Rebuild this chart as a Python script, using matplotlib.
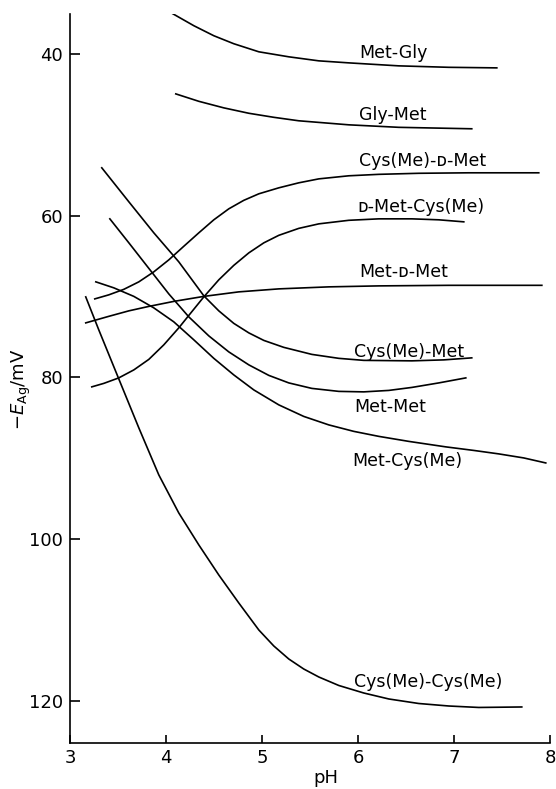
import matplotlib
matplotlib.use("Agg")
import matplotlib.pyplot as plt

plt.rcParams['font.family'] = ['DejaVu Sans']
plt.rcParams['mathtext.fontset'] = 'dejavusans'

# ---- data (pH, -E_Ag / mV) ----
met_gly_x = [4.071, 4.290, 4.498, 4.706, 4.967, 5.279, 5.592, 5.904, 6.425, 6.946, 7.446]
met_gly_y = [34.97, 36.45, 37.69, 38.68, 39.68, 40.30, 40.80, 41.05, 41.42, 41.60, 41.67]

gly_met_x = [4.102, 4.342, 4.602, 4.863, 5.123, 5.383, 5.904, 6.425, 7.185]
gly_met_y = [44.89, 45.81, 46.62, 47.29, 47.79, 48.22, 48.72, 49.03, 49.21]

cysme_dmet_x = [3.258, 3.404, 3.560, 3.717, 3.873, 4.029, 4.185, 4.342, 4.498, 4.654,
                4.810, 4.967, 5.175, 5.383, 5.592, 5.904, 6.217, 6.633, 7.154, 7.883]
cysme_dmet_y = [70.27, 69.77, 69.09, 68.16, 66.92, 65.44, 63.76, 62.09, 60.48, 59.12,
                58.07, 57.26, 56.52, 55.90, 55.41, 55.03, 54.85, 54.72, 54.66, 54.66]

dmet_cysme_x = [3.227, 3.352, 3.508, 3.665, 3.821, 3.977, 4.133, 4.238, 4.394, 4.550, 4.706,
                4.863, 5.019, 5.175, 5.383, 5.592, 5.904, 6.217, 6.561, 6.842, 7.102]
dmet_cysme_y = [81.16, 80.73, 80.05, 79.06, 77.76, 75.96, 73.86, 72.31, 70.02, 67.91, 66.12,
                64.57, 63.33, 62.40, 61.54, 60.98, 60.54, 60.36, 60.36, 60.48, 60.73]

met_dmet_x = [3.164, 3.404, 3.613, 3.821, 4.081, 4.394, 4.758, 5.175, 5.696, 6.217, 6.946, 7.915]
met_dmet_y = [73.24, 72.43, 71.75, 71.20, 70.58, 69.96, 69.40, 69.03, 68.78, 68.66, 68.59, 68.59]

cysme_met_x = [3.331, 3.613, 3.873, 4.133, 4.394, 4.550, 4.706, 4.863, 5.019, 5.227, 5.519,
               5.800, 6.060, 6.561, 6.894, 7.185]
cysme_met_y = [54.04, 58.25, 62.09, 65.68, 69.89, 71.75, 73.30, 74.48, 75.41, 76.27, 77.14,
               77.63, 77.88, 77.94, 77.82, 77.57]

met_met_x = [3.415, 3.613, 3.821, 4.029, 4.238, 4.446, 4.654, 4.863, 5.071, 5.279, 5.519,
             5.800, 6.060, 6.321, 6.561, 6.842, 7.123]
met_met_y = [60.36, 63.33, 66.49, 69.65, 72.50, 74.85, 76.83, 78.44, 79.74, 80.67, 81.35,
             81.72, 81.78, 81.60, 81.23, 80.67, 80.05]

met_cysme_x = [3.269, 3.456, 3.665, 3.873, 4.081, 4.290, 4.498, 4.706, 4.915, 5.175, 5.435,
               5.696, 5.956, 6.217, 6.529, 6.915, 7.206, 7.467, 7.727, 7.956]
met_cysme_y = [68.16, 68.90, 69.96, 71.38, 73.11, 75.34, 77.63, 79.68, 81.54, 83.39, 84.82,
               85.87, 86.67, 87.29, 87.91, 88.59, 89.03, 89.46, 89.96, 90.58]

cysme_cysme_x = [3.164, 3.300, 3.508, 3.717, 3.925, 4.133, 4.342, 4.550, 4.758, 4.967, 5.123,
                 5.279, 5.435, 5.592, 5.800, 6.060, 6.321, 6.633, 6.946, 7.258, 7.706]
cysme_cysme_y = [70.02, 74.11, 80.17, 86.24, 92.06, 96.77, 100.73, 104.45, 107.91, 111.26, 113.24,
                 114.85, 116.09, 117.08, 118.13, 119.06, 119.80, 120.36, 120.67, 120.85, 120.79]

labels = ["Met-Gly", "Gly-Met", "Cys(Me)-\u1d05-Met", "\u1d05-Met-Cys(Me)", "Met-\u1d05-Met",
          "Cys(Me)-Met", "Met-Met", "Met-Cys(Me)", "Cys(Me)-Cys(Me)"]
label_x = [6.01, 6.01, 6.01, 5.99, 6.01, 5.96, 5.96, 5.94, 5.96]
label_y = [39.8, 47.5, 53.2, 58.9, 67.0, 76.8, 83.6, 90.4, 117.7]

x_ticks = [3, 4, 5, 6, 7, 8]
y_ticks = [40, 60, 80, 100, 120]

series = [
    (met_gly_x, met_gly_y), (gly_met_x, gly_met_y), (cysme_dmet_x, cysme_dmet_y),
    (dmet_cysme_x, dmet_cysme_y), (met_dmet_x, met_dmet_y), (cysme_met_x, cysme_met_y),
    (met_met_x, met_met_y), (met_cysme_x, met_cysme_y), (cysme_cysme_x, cysme_cysme_y),
]

fig = plt.figure(figsize=(5.56, 7.89), dpi=100)
ax = fig.add_axes([70/556, 1-743/789, 480/556, (743-14)/789])

for xs, ys in series:
    ax.plot(xs, ys, color='black', lw=1.2, solid_joinstyle='round')

for t, lx, ly in zip(labels, label_x, label_y):
    ax.text(lx, ly, t, fontsize=12.5, va='center', ha='left', color='black')

ax.set_xlim(3, 8)
ax.set_ylim(125.25, 35)
ax.set_xticks(x_ticks)
ax.set_yticks(y_ticks)
ax.spines['top'].set_visible(False)
ax.spines['right'].set_visible(False)
for s in ('left', 'bottom'):
    ax.spines[s].set_linewidth(1.2)
ax.tick_params(axis='y', direction='in', length=7, width=1.2, labelsize=13, pad=5)
ax.tick_params(axis='x', direction='in', length=6, width=1.2, labelsize=13, pad=4)

ax.set_xlabel('pH', fontsize=13, labelpad=0)
ax.xaxis.set_label_coords(0.533, -0.035)
ax.set_ylabel(r'$-E_{\mathrm{Ag}}$/mV', fontsize=13)
ax.yaxis.set_label_coords(-0.078, 0.485)

fig.savefig('out.png', dpi=100)
